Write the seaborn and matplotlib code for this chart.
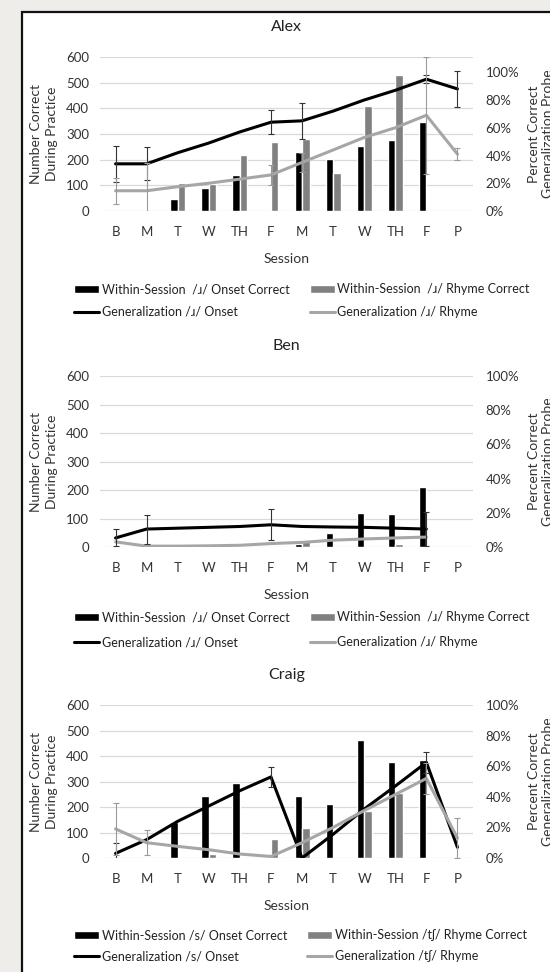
import numpy as np
import pandas as pd
import matplotlib
matplotlib.use('Agg')
import matplotlib.pyplot as plt
from matplotlib.patches import Patch, Rectangle
from matplotlib.lines import Line2D
import seaborn as sns

nan = np.nan

# Сессии (ось X)
sessions = ['B', 'M', 'T', 'W', 'TH', 'F', 'M', 'T', 'W', 'TH', 'F', 'P']

# Alex
alex_onset_bars = [nan, nan, 47, 88, 142, nan, 230, 204, 252, 275, 345, nan]
alex_rhyme_bars = [nan, nan, 108, 105, 218, 269, 280, 147, 410, 528, nan, nan]
alex_onset_gen = [0.34, 0.34, 0.42, 0.49, 0.57, 0.64, 0.65, 0.72, 0.80, 0.87, 0.95, 0.88]
alex_rhyme_gen = [0.146, 0.146, 0.175, 0.20, 0.23, 0.26, 0.35, 0.44, 0.53, 0.60, 0.69, 0.41]
alex_onset_err = [0.13, 0.12, 0, 0, 0, 0.087, 0.13, 0, 0, 0, 0.03, 0.13]
alex_rhyme_err = [0.095, 0.2, 0, 0, 0, 0.07, 0.07, 0, 0, 0, 0.42, 0.045]

# Ben
ben_onset_bars = [nan, nan, nan, nan, nan, nan, 12, 50, 118, 115, 210, nan]
ben_rhyme_bars = [nan, nan, nan, nan, nan, nan, 20, nan, nan, 12, nan, nan]
ben_onset_gen = [0.053, 0.105, 0.11, 0.115, 0.12, 0.13, 0.12, 0.117, 0.115, 0.11, 0.105, nan]
ben_rhyme_gen = [0.03, 0.005, 0.005, 0.007, 0.01, 0.02, 0.027, 0.04, 0.047, 0.053, 0.058, nan]
ben_onset_err = [0.05, 0.085, 0, 0, 0, 0.09, 0, 0, 0, 0, 0.10, 0]
ben_rhyme_err = [0, 0, 0, 0, 0, 0, 0, 0, 0, 0, 0, 0]

# Craig
craig_onset_bars = [nan, nan, 142, 243, 293, nan, 243, 210, 461, 377, 383, nan]
craig_rhyme_bars = [nan, nan, nan, 15, 5, 74, 117, nan, 184, 253, nan, nan]
craig_onset_gen = [0.03, 0.12, 0.24, 0.34, 0.44, 0.53, 0.0, 0.155, 0.32, 0.47, 0.625, 0.07]
craig_rhyme_gen = [0.19, 0.10, 0.076, 0.054, 0.026, 0.01, 0.10, 0.20, 0.31, 0.415, 0.52, 0.13]
craig_onset_err = [0.07, 0, 0, 0, 0, 0.063, 0, 0, 0, 0, 0.07, 0]
craig_rhyme_err = [0.17, 0.08, 0, 0, 0, 0, 0, 0, 0, 0, 0.10, 0.13]

ipa_r = ['Within-Session  /\u0279/ Onset Correct', 'Generalization /\u0279/ Onset',
         'Within-Session  /\u0279/ Rhyme Correct', 'Generalization /\u0279/ Rhyme']
ipa_s = ['Within-Session /s/ Onset Correct', 'Generalization /s/ Onset',
         'Within-Session /t\u0283/ Rhyme Correct', 'Generalization /t\u0283/ Rhyme']

sns.set_theme(style='white')
plt.rcParams['font.family'] = ['Lato', 'DejaVu Sans']

BLACK = '#000000'
GRAY_BAR = '#808080'
GRAY_LINE = '#a6a6a6'
TXT = '#333333'

W, H = 550, 972
fig = plt.figure(figsize=(W / 100, H / 100), dpi=100, facecolor='#efedea')
# белая "страница" с рамкой слева и сверху
fig.patches.append(Rectangle((22 / W, -0.1), 1.2, 1.1 - 12 / H, transform=fig.transFigure,
                             facecolor='white', edgecolor='#111111', linewidth=1.6, zorder=-1))

panels = [
    # name, top px, bottom px, right ylim, bars, lines, errs, labels, legend top px, row gap
    ('Alex', 57, 211, 1.11, alex_onset_bars, alex_rhyme_bars, alex_onset_gen, alex_rhyme_gen,
     alex_onset_err, alex_rhyme_err, ipa_r, 277, 0.85),
    ('Ben', 376, 547, 1.0, ben_onset_bars, ben_rhyme_bars, ben_onset_gen, ben_rhyme_gen,
     ben_onset_err, ben_rhyme_err, ipa_r, 605, 1.05),
    ('Craig', 705, 858, 1.0, craig_onset_bars, craig_rhyme_bars, craig_onset_gen, craig_rhyme_gen,
     craig_onset_err, craig_rhyme_err, ipa_s, 923, 0.7),
]

pos = np.arange(12)
for (name, top, bot, rmax, ob, rb, og, rg, oe, re_, labels, leg_top, lsp) in panels:
    ax = fig.add_axes([100 / W, 1 - bot / H, 373 / W, (bot - top) / H])
    df = pd.DataFrame({'pos': list(pos) * 2,
                       'kind': ['onset'] * 12 + ['rhyme'] * 12,
                       'value': list(ob) + list(rb)})
    sns.barplot(data=df, x='pos', y='value', hue='kind', order=list(pos),
                hue_order=['onset', 'rhyme'], palette={'onset': BLACK, 'rhyme': GRAY_BAR},
                width=0.48, errorbar=None, legend=False, ax=ax, saturation=1)
    ax.set_ylim(0, 600)
    ax.set_yticks(range(0, 601, 100))
    ax.set_axisbelow(True)
    ax.yaxis.grid(True, color='#d9d9d9', linewidth=0.9)
    ax.xaxis.grid(False)
    for s in ax.spines.values():
        s.set_visible(False)
    ax.tick_params(axis='y', length=0, labelsize=9.5, colors=TXT, pad=8)
    ax.tick_params(axis='x', length=0, labelsize=9.5, colors=TXT, pad=10.5)
    ax.set_xticks(pos)
    ax.set_xticklabels(sessions)
    ax.set_xlabel('Session', fontsize=10, color=TXT, labelpad=11)
    ax.set_ylabel('')
    ax.set_title(name, fontsize=11.5, color='#222222', pad=19)

    ax2 = ax.twinx()
    og_a = np.array(og, dtype=float)
    rg_a = np.array(rg, dtype=float)
    sns.lineplot(x=pos, y=og_a, color=BLACK, linewidth=2.2, ax=ax2)
    sns.lineplot(x=pos, y=rg_a, color=GRAY_LINE, linewidth=2.2, ax=ax2)
    oe_a = np.array(oe, dtype=float)
    re_a = np.array(re_, dtype=float)
    m = oe_a > 0
    ax2.errorbar(pos[m], og_a[m], yerr=oe_a[m], fmt='none', ecolor='#333333',
                 elinewidth=0.8, capsize=2.5, capthick=0.8)
    m = re_a > 0
    ax2.errorbar(pos[m], rg_a[m], yerr=re_a[m], fmt='none', ecolor='#9a9a9a',
                 elinewidth=0.8, capsize=2.5, capthick=0.8)
    ax2.set_ylim(0, rmax)
    ax2.set_yticks([0, 0.2, 0.4, 0.6, 0.8, 1.0])
    ax2.set_yticklabels(['0%', '20%', '40%', '60%', '80%', '100%'])
    ax2.tick_params(length=0, labelsize=9.5, colors=TXT, pad=9)
    ax2.set_ylabel('')
    ax2.grid(False)
    for s in ax2.spines.values():
        s.set_visible(False)
    ax.set_xlim(-0.5, 11.5)

    yc = 1 - (top + bot) / 2 / H
    fig.text(44 / W, yc, 'Number Correct\nDuring Practice', rotation=90, ha='center',
             va='center', fontsize=10, color=TXT, linespacing=1.3, multialignment='center')
    fig.text(541 / W, yc, 'Percent Correct\nGeneralization Probe', rotation=90, ha='center',
             va='center', fontsize=10, color=TXT, linespacing=1.3, multialignment='center')

    handles = [Patch(facecolor=BLACK), Line2D([], [], color=BLACK, lw=2.2),
               Patch(facecolor=GRAY_BAR), Line2D([], [], color=GRAY_LINE, lw=2.2)]
    fig.legend(handles, labels, ncol=2, loc='upper left',
               bbox_to_anchor=(68 / W, 1 - leg_top / H), frameon=False,
               fontsize=9, labelcolor='#222222', borderpad=0, handlelength=2.0,
               handleheight=0.6, handletextpad=0.2, columnspacing=1.6, labelspacing=lsp)

fig.savefig('out.png', dpi=100, facecolor=fig.get_facecolor())
